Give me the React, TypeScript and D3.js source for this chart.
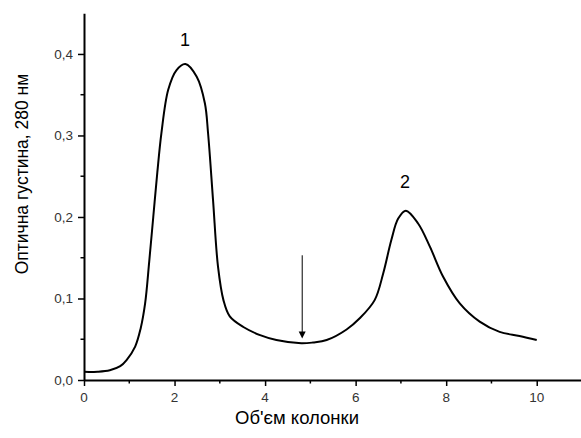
import React, { useEffect, useRef } from "react";
import * as d3 from "d3";

// elution profile
const volume = [0, 0.3, 0.57, 0.8, 0.94, 1.13, 1.25, 1.35, 1.44, 1.53, 1.62, 1.71, 1.86, 2.04, 2.24, 2.49, 2.67, 2.74, 2.85, 2.96, 3.08, 3.22, 3.52, 3.89, 4.25, 4.8, 5.06, 5.36, 5.8, 6.09, 6.42, 6.61, 6.79, 6.94, 7.11, 7.38, 7.64, 7.93, 8.3, 8.74, 9.18, 9.62, 10.0];
const density = [0.01, 0.0102, 0.012, 0.017, 0.0245, 0.041, 0.063, 0.094, 0.145, 0.2, 0.255, 0.303, 0.356, 0.38, 0.3877, 0.372, 0.3395, 0.303, 0.221, 0.139, 0.098, 0.078, 0.065, 0.055, 0.049, 0.045, 0.046, 0.049, 0.062, 0.0757, 0.098, 0.131, 0.172, 0.198, 0.2077, 0.192, 0.1636, 0.127, 0.094, 0.0716, 0.059, 0.054, 0.049];

const peakLabels = ["1", "2"];
const peakX = [2.23, 7.09];
const peakY = [0.41, 0.236];

const arrowX = 4.82;
const arrowFrom = 0.153;
const arrowTo = 0.051;

const xTicks = [0, 2, 4, 6, 8, 10];
const yTicks = [0, 0.1, 0.2, 0.3, 0.4];
const yTickLabels = ["0,0", "0,1", "0,2", "0,3", "0,4"];

export default function App() {
  const ref = useRef<SVGSVGElement>(null);

  useEffect(() => {
    const svg = d3.select(ref.current);
    svg.selectAll("*").remove();

    const x = d3.scaleLinear().domain([0, 11]).range([84, 582]);
    const y = d3.scaleLinear().domain([0, 0.45]).range([380, 13.2]);
    const font = "'Liberation Sans', Arial, sans-serif";

    const xAxis = svg.append("g").attr("transform", `translate(0,${y(0)})`);
    xAxis.call(d3.axisBottom(x).tickValues(xTicks).tickSize(6).tickSizeOuter(0).tickFormat(() => ""));
    xAxis.append("g").selectAll("line").data([1, 3, 5, 7, 9]).join("line")
      .attr("x1", d => x(d)).attr("x2", d => x(d)).attr("y1", 0).attr("y2", 3.5)
      .attr("stroke", "#000").attr("stroke-width", 1.5);

    const yAxis = svg.append("g").attr("transform", `translate(${x(0)},0)`);
    yAxis.call(d3.axisLeft(y).tickValues(yTicks).tickSize(6).tickSizeOuter(0).tickFormat(() => ""));
    yAxis.append("g").selectAll("line").data([0.05, 0.15, 0.25, 0.35]).join("line")
      .attr("x1", 0).attr("x2", -3.5).attr("y1", d => y(d)).attr("y2", d => y(d))
      .attr("stroke", "#000").attr("stroke-width", 1.5);

    for (const ax of [xAxis, yAxis]) {
      ax.select(".domain").attr("stroke", "#000").attr("stroke-width", 2);
      ax.selectAll(".tick line").attr("stroke", "#000").attr("stroke-width", 1.5);
    }

    svg.append("g").selectAll("text").data(xTicks).join("text")
      .attr("x", d => x(d)).attr("y", y(0) + 22)
      .attr("text-anchor", "middle").attr("font-family", font).attr("font-size", 13.5).attr("fill", "#333")
      .text(d => String(d));
    svg.append("g").selectAll("text").data(yTicks).join("text")
      .attr("x", x(0) - 11).attr("y", d => y(d) + 5)
      .attr("text-anchor", "end").attr("font-family", font).attr("font-size", 13.5).attr("fill", "#333")
      .text((_, i) => yTickLabels[i]);

    const pts = volume.map((v, i) => [v, density[i]] as [number, number]);
    const line = d3.line<[number, number]>().x(d => x(d[0])).y(d => y(d[1])).curve(d3.curveCatmullRom.alpha(0.5));
    svg.append("path").datum(pts).attr("d", line)
      .attr("fill", "none").attr("stroke", "#000").attr("stroke-width", 2);

    // arrow marking where buffer changed
    svg.append("line")
      .attr("x1", x(arrowX)).attr("x2", x(arrowX))
      .attr("y1", y(arrowFrom)).attr("y2", y(arrowTo) - 6)
      .attr("stroke", "#000").attr("stroke-width", 1);
    svg.append("path")
      .attr("d", `M${x(arrowX) - 3.5},${y(arrowTo) - 7}L${x(arrowX) + 3.5},${y(arrowTo) - 7}L${x(arrowX)},${y(arrowTo)}Z`)
      .attr("fill", "#000");

    svg.selectAll(".peak").data(peakLabels).join("text")
      .attr("class", "peak")
      .attr("x", (_, i) => x(peakX[i])).attr("y", (_, i) => y(peakY[i]))
      .attr("text-anchor", "middle").attr("font-family", font).attr("font-size", 18)
      .text(d => d);

    svg.append("text")
      .attr("x", 297).attr("y", 424)
      .attr("text-anchor", "middle").attr("font-family", font).attr("font-size", 18.5)
      .text("Об'єм колонки");

    svg.append("text")
      .attr("transform", "translate(28,174) rotate(-90)")
      .attr("text-anchor", "middle").attr("font-family", font).attr("font-size", 17.5)
      .text("Оптична густина, 280 нм");
  }, []);

  return (
    <svg ref={ref} width={581} height={438}
      style={{ position: "absolute", left: 0, top: 0, background: "#fff" }} />
  );
}
